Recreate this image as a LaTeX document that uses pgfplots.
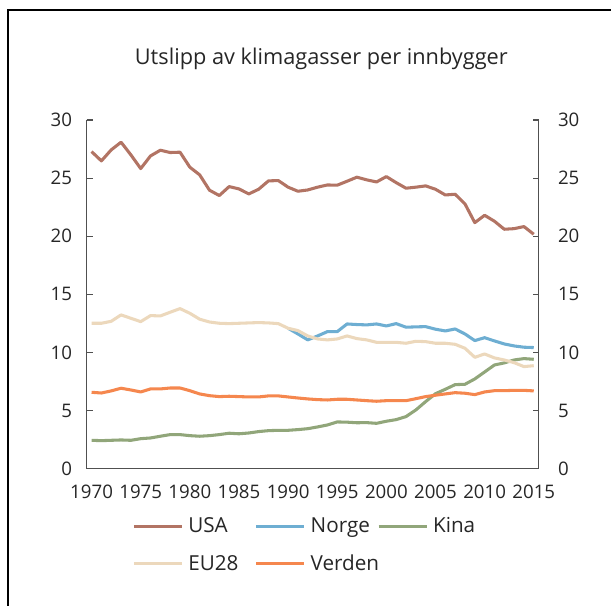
\documentclass[border=0pt]{standalone}
\usepackage{fontspec}
\setmainfont{Open Sans}
\usepackage{pgfplots}
\usepackage{pgfplotstable}
\pgfplotsset{compat=1.18}
\definecolor{cUSA}{RGB}{178,116,100}
\definecolor{cNO}{RGB}{110,174,210}
\definecolor{cKI}{RGB}{145,166,122}
\definecolor{cEU}{RGB}{236,216,188}
\definecolor{cVE}{RGB}{245,135,78}
\definecolor{txt}{RGB}{38,38,38}
\definecolor{axc}{RGB}{80,80,80}
\pgfplotstableread{
Year USA Norge Kina EU28 Verden
1970 27.28 nan 2.44 12.51 6.57
1971 26.48 nan 2.41 12.51 6.51
1972 27.43 nan 2.44 12.68 6.69
1973 28.09 nan 2.47 13.23 6.92
1974 27.00 nan 2.44 12.94 6.77
1975 25.82 nan 2.58 12.65 6.60
1976 26.91 nan 2.64 13.17 6.86
1977 27.40 nan 2.79 13.14 6.86
1978 27.20 nan 2.93 13.46 6.94
1979 27.23 nan 2.93 13.77 6.94
1980 25.94 nan 2.84 13.37 6.71
1981 25.28 nan 2.79 12.86 6.43
1982 23.96 nan 2.84 12.62 6.28
1983 23.50 nan 2.93 12.51 6.20
1984 24.27 nan 3.05 12.48 6.23
1985 24.07 nan 3.00 12.51 6.20
1986 23.64 nan 3.07 12.54 6.17
1987 24.04 nan 3.19 12.57 6.17
1988 24.76 nan 3.27 12.54 6.26
1989 24.79 nan 3.30 12.48 6.26
1990 24.22 12.08 3.30 12.08 6.17
1991 23.87 11.59 3.36 11.88 6.08
1992 23.98 11.08 3.44 11.42 6.00
1993 24.22 11.42 3.59 11.16 5.94
1994 24.41 11.79 3.76 11.08 5.91
1995 24.39 11.79 4.02 11.16 5.97
1996 24.73 12.45 4.00 11.42 5.97
1997 25.08 12.40 3.95 11.19 5.91
1998 24.85 12.37 3.96 11.08 5.85
1999 24.67 12.45 3.90 10.87 5.80
2000 25.13 12.28 4.08 10.87 5.85
2001 24.61 12.48 4.22 10.87 5.85
2002 24.13 12.17 4.48 10.79 5.85
2003 24.22 12.20 5.05 10.96 6.02
2004 24.33 12.22 5.77 10.93 6.20
2005 24.04 12.00 6.45 10.79 6.32
2006 23.55 11.85 6.83 10.79 6.43
2007 23.61 12.02 7.23 10.70 6.54
2008 22.78 11.59 7.26 10.36 6.49
2009 21.17 11.02 7.72 9.58 6.37
2010 21.80 11.27 8.32 9.87 6.60
2011 21.29 10.99 8.92 9.53 6.71
2012 20.60 10.73 9.10 9.35 6.71
2013 20.65 10.56 9.35 9.12 6.74
2014 20.83 10.45 9.47 8.78 6.74
2015 20.17 10.42 9.41 8.86 6.69
}\datatable
\begin{document}
\begin{tikzpicture}
\useasboundingbox (0pt,0pt) rectangle (458.25pt,454.5pt);
\draw[line width=1.6pt,black] (6pt,0pt) -- (6pt,447pt) -- (458.25pt,447pt);
\node[text=txt,font=\fontsize{16.3}{19}\selectfont] at (241pt,410pt) {Utslipp av klimagasser per innbygger};
\begin{axis}[
  at={(65pt,103pt)}, anchor=south west,
  scale only axis, width=339pt, height=261.5pt,
  xmin=1969.5, xmax=2015.5, ymin=0, ymax=30,
  axis x line*=bottom, axis y line*=left,
  axis line style={axc, line width=0.8pt},
  xtick={1970,1975,...,2015}, ytick={0,5,...,30},
  x tick style={draw=none},
  y tick style={axc, line width=0.8pt},
  tick align=inside, major tick length=4.5pt,
  xticklabel style={/pgf/number format/1000 sep={}, text=txt, font=\fontsize{14}{16}\selectfont, yshift=-9pt},
  yticklabel style={text=txt, font=\fontsize{14}{16}\selectfont, xshift=-7.5pt},
  /pgf/number format/assume math mode=true,
  legend columns=3,
  legend style={at={(0.1002,-0.14)}, anchor=north west, draw=none, fill=none, inner sep=0pt,
    font=\fontsize{15.5}{18}\selectfont, text=txt, row sep=15pt,
    nodes={inner sep=0pt},
    /tikz/every odd column/.append style={column sep=3.75pt},
    /tikz/every even column/.append style={column sep=0pt}},
  legend image code/.code={\draw[#1] (0pt,0pt) -- (36pt,0pt);},
  every axis plot/.append style={line width=2.3pt, line join=round},
]
\addplot[cUSA] table[x=Year,y=USA]{\datatable};
\addlegendentry{\makebox[49.75pt][l]{USA}}
\addplot[cNO] table[x=Year,y=Norge]{\datatable};
\addlegendentry{\makebox[49.75pt][l]{Norge}}
\addplot[cKI] table[x=Year,y=Kina]{\datatable};
\addlegendentry{\makebox[49.75pt][l]{Kina}}
\addplot[cEU] table[x=Year,y=EU28]{\datatable};
\addlegendentry{\makebox[49.75pt][l]{EU28}}
\addplot[cVE] table[x=Year,y=Verden]{\datatable};
\addlegendentry{\makebox[49.75pt][l]{Verden}}
\end{axis}
\begin{axis}[
  at={(65pt,103pt)}, anchor=south west,
  scale only axis, width=339pt, height=261.5pt,
  xmin=1969.5, xmax=2015.5, ymin=0, ymax=30,
  axis x line=none, axis y line*=right,
  axis line style={axc, line width=0.8pt},
  ytick={0,5,...,30},
  y tick style={axc, line width=0.8pt},
  tick align=inside, major tick length=4.5pt,
  yticklabel style={text=txt, font=\fontsize{14}{16}\selectfont, xshift=11pt},
  /pgf/number format/assume math mode=true,
]
\addplot[draw=none] coordinates {(1970,0)};
\end{axis}
\end{tikzpicture}
\end{document}
